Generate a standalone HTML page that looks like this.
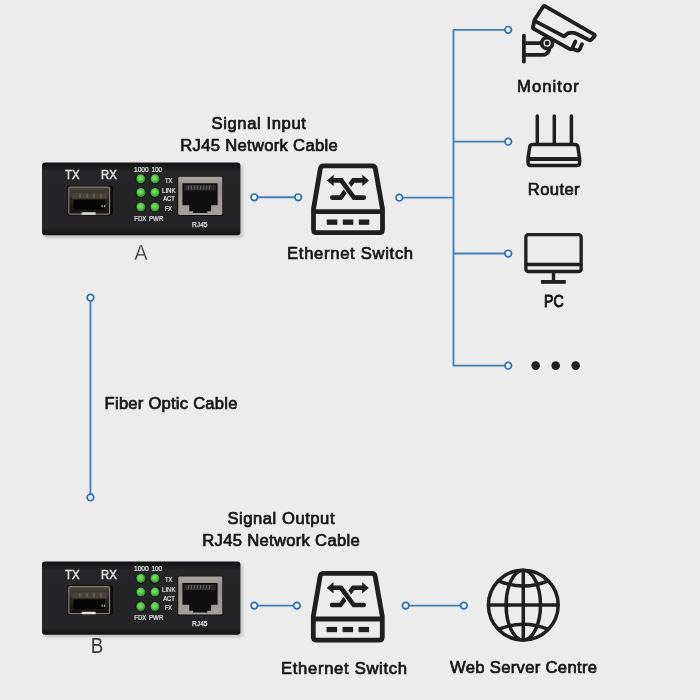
<!DOCTYPE html>
<html lang="en">
<head>
<meta charset="utf-8">
<title>Fiber media converter network diagram</title>
<style>
html,body{margin:0;padding:0;background:#ececec;}
body{width:700px;height:700px;overflow:hidden;}
svg{display:block;will-change:transform;font-family:"Liberation Sans",sans-serif;}
</style>
</head>
<body>
<svg width="700" height="700" viewBox="0 0 700 700">
<rect width="700" height="700" fill="#ececec"/>
<defs>
<linearGradient id="devbody" x1="0" y1="0" x2="0" y2="1">
<stop offset="0" stop-color="#121212"/><stop offset="0.05" stop-color="#19191a"/><stop offset="0.12" stop-color="#262628"/><stop offset="0.9" stop-color="#242426"/><stop offset="1" stop-color="#121212"/>
</linearGradient>
<linearGradient id="sfp" x1="0" y1="0" x2="0" y2="1">
<stop offset="0" stop-color="#4a453e"/><stop offset="0.4" stop-color="#2a2622"/><stop offset="1" stop-color="#15130f"/>
</linearGradient>
<linearGradient id="rjframe" x1="0" y1="0" x2="0" y2="1">
<stop offset="0" stop-color="#a9a69e"/><stop offset="0.25" stop-color="#95928b"/><stop offset="1" stop-color="#a4a19a"/>
</linearGradient>
<radialGradient id="led" cx="0.45" cy="0.4" r="0.6">
<stop offset="0" stop-color="#86e874"/><stop offset="0.55" stop-color="#52c446"/><stop offset="1" stop-color="#2a8a28"/>
</radialGradient>
<filter id="blur" x="-5%" y="-15%" width="110%" height="130%"><feGaussianBlur stdDeviation="1.5"/></filter>
</defs>
<g fill="none" stroke="#3f7ebb" stroke-width="1.8">
<path d="M508.2 29.8 H453.5 V365.7 H508.2"/>
<path d="M453.5 141.7 H508.2"/>
<path d="M453.5 253.5 H508.2"/>
<path d="M399.3 197.7 H453.5"/>
</g>
<circle cx="508.2" cy="29.8" r="3.3" fill="#e8f5fb" stroke="#2f6cae" stroke-width="1.65"/>
<circle cx="508.2" cy="141.7" r="3.3" fill="#e8f5fb" stroke="#2f6cae" stroke-width="1.65"/>
<circle cx="508.2" cy="253.5" r="3.3" fill="#e8f5fb" stroke="#2f6cae" stroke-width="1.65"/>
<circle cx="508.2" cy="365.7" r="3.3" fill="#e8f5fb" stroke="#2f6cae" stroke-width="1.65"/>
<circle cx="399.3" cy="197.7" r="3.3" fill="#e8f5fb" stroke="#2f6cae" stroke-width="1.65"/>
<line x1="254.3" y1="197.25" x2="298.2" y2="197.25" stroke="#3f7ebb" stroke-width="1.8"/><circle cx="254.3" cy="197.25" r="3.3" fill="#e8f5fb" stroke="#2f6cae" stroke-width="1.65"/><circle cx="298.2" cy="197.25" r="3.3" fill="#e8f5fb" stroke="#2f6cae" stroke-width="1.65"/>
<line x1="90.45" y1="297.7" x2="90.45" y2="497.4" stroke="#3f7ebb" stroke-width="1.8"/><circle cx="90.45" cy="297.7" r="3.3" fill="#e8f5fb" stroke="#2f6cae" stroke-width="1.65"/><circle cx="90.45" cy="497.4" r="3.3" fill="#e8f5fb" stroke="#2f6cae" stroke-width="1.65"/>
<line x1="254.3" y1="605.6" x2="296.9" y2="605.6" stroke="#3f7ebb" stroke-width="1.8"/><circle cx="254.3" cy="605.6" r="3.3" fill="#e8f5fb" stroke="#2f6cae" stroke-width="1.65"/><circle cx="296.9" cy="605.6" r="3.3" fill="#e8f5fb" stroke="#2f6cae" stroke-width="1.65"/>
<line x1="405.7" y1="605.6" x2="463.9" y2="605.6" stroke="#3f7ebb" stroke-width="1.8"/><circle cx="405.7" cy="605.6" r="3.3" fill="#e8f5fb" stroke="#2f6cae" stroke-width="1.65"/><circle cx="463.9" cy="605.6" r="3.3" fill="#e8f5fb" stroke="#2f6cae" stroke-width="1.65"/>
<g transform="translate(42.0,162.55)">
<rect x="2.4" y="2.6" width="198.4" height="72.8" rx="3" fill="#888" opacity="0.42" filter="url(#blur)"/>
<rect x="0" y="0" width="198.4" height="72.8" rx="3" fill="url(#devbody)"/>
<g transform="translate(0,0)">
<text x="30.3" y="16.8" font-size="13.4" text-anchor="middle" fill="#e0e0e0" textLength="14.6" lengthAdjust="spacingAndGlyphs" stroke="#e0e0e0" stroke-width="0.5">TX</text>
<text x="66.9" y="16.8" font-size="13.4" text-anchor="middle" fill="#e0e0e0" textLength="15.8" lengthAdjust="spacingAndGlyphs" stroke="#e0e0e0" stroke-width="0.5">RX</text>
<rect x="25.4" y="23.2" width="45.4" height="29.8" rx="1.5" fill="#0a0a0a"/>
<rect x="26.8" y="24.6" width="40.8" height="27" rx="1.4" fill="url(#sfp)" stroke="#857e72" stroke-width="1.2"/>
<rect x="29.4" y="30.2" width="36" height="6" fill="#47423a"/>
<rect x="37.5" y="31" width="1" height="4.4" fill="#7a7468"/>
<rect x="44.5" y="31" width="1" height="4.4" fill="#7a7468"/>
<rect x="51.5" y="31" width="1" height="4.4" fill="#7a7468"/>
<rect x="58.5" y="31" width="1" height="4.4" fill="#7a7468"/>
<rect x="31.6" y="37.2" width="31.6" height="9.6" fill="#040404"/>
<rect x="59.6" y="42.6" width="1.3" height="2" fill="#bdb9b0"/><rect x="61.9" y="42.6" width="1.3" height="2" fill="#bdb9b0"/>
<rect x="39.6" y="49.6" width="14.2" height="2.6" rx="1.1" fill="#e4e0d8"/>
<circle cx="98.85" cy="16.3" r="5.3" fill="#0c0f0c"/>
<circle cx="98.85" cy="16.3" r="4.5" fill="url(#led)"/>
<circle cx="113.0" cy="16.3" r="5.3" fill="#0c0f0c"/>
<circle cx="113.0" cy="16.3" r="4.5" fill="url(#led)"/>
<circle cx="98.85" cy="30.0" r="5.3" fill="#0c0f0c"/>
<circle cx="98.85" cy="30.0" r="4.5" fill="url(#led)"/>
<circle cx="113.0" cy="30.0" r="5.3" fill="#0c0f0c"/>
<circle cx="113.0" cy="30.0" r="4.5" fill="url(#led)"/>
<circle cx="98.85" cy="44.5" r="5.3" fill="#0c0f0c"/>
<circle cx="98.85" cy="44.5" r="4.5" fill="url(#led)"/>
<circle cx="113.0" cy="44.5" r="5.3" fill="#0c0f0c"/>
<circle cx="113.0" cy="44.5" r="4.5" fill="url(#led)"/>
<text x="92.0" y="9.0" font-size="6.8" text-anchor="start" fill="#e2e2e6" textLength="14.6" lengthAdjust="spacingAndGlyphs" stroke="#e2e2e6" stroke-width="0.22">1000</text>
<text x="109.6" y="9.0" font-size="6.8" text-anchor="start" fill="#e2e2e6" textLength="10.4" lengthAdjust="spacingAndGlyphs" stroke="#e2e2e6" stroke-width="0.22">100</text>
<text x="122.9" y="20.2" font-size="6.8" text-anchor="start" fill="#e2e2e6" textLength="7.4" lengthAdjust="spacingAndGlyphs" stroke="#e2e2e6" stroke-width="0.22">TX</text>
<text x="120.0" y="30.3" font-size="6.8" text-anchor="start" fill="#e2e2e6" textLength="13.6" lengthAdjust="spacingAndGlyphs" stroke="#e2e2e6" stroke-width="0.22">LINK</text>
<text x="121.2" y="38.7" font-size="6.8" text-anchor="start" fill="#e2e2e6" textLength="11.6" lengthAdjust="spacingAndGlyphs" stroke="#e2e2e6" stroke-width="0.22">ACT</text>
<text x="122.9" y="48.3" font-size="6.8" text-anchor="start" fill="#e2e2e6" textLength="7.2" lengthAdjust="spacingAndGlyphs" stroke="#e2e2e6" stroke-width="0.22">FX</text>
<text x="92.2" y="58.4" font-size="6.8" text-anchor="start" fill="#e2e2e6" textLength="12.2" lengthAdjust="spacingAndGlyphs" stroke="#e2e2e6" stroke-width="0.22">FDX</text>
<text x="107.0" y="58.4" font-size="6.8" text-anchor="start" fill="#e2e2e6" textLength="14.4" lengthAdjust="spacingAndGlyphs" stroke="#e2e2e6" stroke-width="0.22">PWR</text>
<rect x="135.4" y="13.6" width="45.8" height="39.8" rx="1.6" fill="#0d0d0d"/>
<rect x="136.2" y="14.3" width="44.1" height="38.2" rx="1.4" fill="url(#rjframe)"/>
<path d="M140.4 20.8h35.2v21.8h-6.5v6h-3.8v1.8h-14.2v-1.8h-3.8v-6h-6.9z" fill="#0e0e0f"/>
<path d="M142.2 22.4h31.6v5.6h-31.6z" fill="#2b2b2c"/>
<path d="M146.5 23h0.8l-0.9 4.4h-0.8z" fill="#77756f"/>
<path d="M149.5 23h0.8l-0.9 4.4h-0.8z" fill="#77756f"/>
<path d="M152.5 23h0.8l-0.9 4.4h-0.8z" fill="#77756f"/>
<path d="M155.5 23h0.8l-0.9 4.4h-0.8z" fill="#77756f"/>
<path d="M158.5 23h0.8l-0.9 4.4h-0.8z" fill="#77756f"/>
<path d="M161.5 23h0.8l-0.9 4.4h-0.8z" fill="#77756f"/>
<path d="M164.5 23h0.8l-0.9 4.4h-0.8z" fill="#77756f"/>
<path d="M167.5 23h0.8l-0.9 4.4h-0.8z" fill="#77756f"/>
<text x="157.8" y="64.3" font-size="7.2" text-anchor="middle" fill="#e2e2e6" textLength="15.4" lengthAdjust="spacingAndGlyphs" stroke="#e2e2e6" stroke-width="0.25">RJ45</text>
</g>
</g>
<g transform="translate(42.0,561.4)">
<rect x="2.4" y="2.6" width="198.4" height="73.3" rx="3" fill="#888" opacity="0.42" filter="url(#blur)"/>
<rect x="0" y="0" width="198.4" height="73.3" rx="3" fill="url(#devbody)"/>
<g transform="translate(0,0.7)">
<text x="30.3" y="16.8" font-size="13.4" text-anchor="middle" fill="#e0e0e0" textLength="14.6" lengthAdjust="spacingAndGlyphs" stroke="#e0e0e0" stroke-width="0.5">TX</text>
<text x="66.9" y="16.8" font-size="13.4" text-anchor="middle" fill="#e0e0e0" textLength="15.8" lengthAdjust="spacingAndGlyphs" stroke="#e0e0e0" stroke-width="0.5">RX</text>
<rect x="25.4" y="23.2" width="45.4" height="29.8" rx="1.5" fill="#0a0a0a"/>
<rect x="26.8" y="24.6" width="40.8" height="27" rx="1.4" fill="url(#sfp)" stroke="#857e72" stroke-width="1.2"/>
<rect x="29.4" y="30.2" width="36" height="6" fill="#47423a"/>
<rect x="37.5" y="31" width="1" height="4.4" fill="#7a7468"/>
<rect x="44.5" y="31" width="1" height="4.4" fill="#7a7468"/>
<rect x="51.5" y="31" width="1" height="4.4" fill="#7a7468"/>
<rect x="58.5" y="31" width="1" height="4.4" fill="#7a7468"/>
<rect x="31.6" y="37.2" width="31.6" height="9.6" fill="#040404"/>
<rect x="59.6" y="42.6" width="1.3" height="2" fill="#bdb9b0"/><rect x="61.9" y="42.6" width="1.3" height="2" fill="#bdb9b0"/>
<rect x="39.6" y="49.6" width="14.2" height="2.6" rx="1.1" fill="#e4e0d8"/>
<circle cx="98.85" cy="16.3" r="5.3" fill="#0c0f0c"/>
<circle cx="98.85" cy="16.3" r="4.5" fill="url(#led)"/>
<circle cx="113.0" cy="16.3" r="5.3" fill="#0c0f0c"/>
<circle cx="113.0" cy="16.3" r="4.5" fill="url(#led)"/>
<circle cx="98.85" cy="30.0" r="5.3" fill="#0c0f0c"/>
<circle cx="98.85" cy="30.0" r="4.5" fill="url(#led)"/>
<circle cx="113.0" cy="30.0" r="5.3" fill="#0c0f0c"/>
<circle cx="113.0" cy="30.0" r="4.5" fill="url(#led)"/>
<circle cx="98.85" cy="44.5" r="5.3" fill="#0c0f0c"/>
<circle cx="98.85" cy="44.5" r="4.5" fill="url(#led)"/>
<circle cx="113.0" cy="44.5" r="5.3" fill="#0c0f0c"/>
<circle cx="113.0" cy="44.5" r="4.5" fill="url(#led)"/>
<text x="92.0" y="9.0" font-size="6.8" text-anchor="start" fill="#e2e2e6" textLength="14.6" lengthAdjust="spacingAndGlyphs" stroke="#e2e2e6" stroke-width="0.22">1000</text>
<text x="109.6" y="9.0" font-size="6.8" text-anchor="start" fill="#e2e2e6" textLength="10.4" lengthAdjust="spacingAndGlyphs" stroke="#e2e2e6" stroke-width="0.22">100</text>
<text x="122.9" y="20.2" font-size="6.8" text-anchor="start" fill="#e2e2e6" textLength="7.4" lengthAdjust="spacingAndGlyphs" stroke="#e2e2e6" stroke-width="0.22">TX</text>
<text x="120.0" y="30.3" font-size="6.8" text-anchor="start" fill="#e2e2e6" textLength="13.6" lengthAdjust="spacingAndGlyphs" stroke="#e2e2e6" stroke-width="0.22">LINK</text>
<text x="121.2" y="38.7" font-size="6.8" text-anchor="start" fill="#e2e2e6" textLength="11.6" lengthAdjust="spacingAndGlyphs" stroke="#e2e2e6" stroke-width="0.22">ACT</text>
<text x="122.9" y="48.3" font-size="6.8" text-anchor="start" fill="#e2e2e6" textLength="7.2" lengthAdjust="spacingAndGlyphs" stroke="#e2e2e6" stroke-width="0.22">FX</text>
<text x="92.2" y="58.4" font-size="6.8" text-anchor="start" fill="#e2e2e6" textLength="12.2" lengthAdjust="spacingAndGlyphs" stroke="#e2e2e6" stroke-width="0.22">FDX</text>
<text x="107.0" y="58.4" font-size="6.8" text-anchor="start" fill="#e2e2e6" textLength="14.4" lengthAdjust="spacingAndGlyphs" stroke="#e2e2e6" stroke-width="0.22">PWR</text>
<rect x="135.4" y="13.6" width="45.8" height="39.8" rx="1.6" fill="#0d0d0d"/>
<rect x="136.2" y="14.3" width="44.1" height="38.2" rx="1.4" fill="url(#rjframe)"/>
<path d="M140.4 20.8h35.2v21.8h-6.5v6h-3.8v1.8h-14.2v-1.8h-3.8v-6h-6.9z" fill="#0e0e0f"/>
<path d="M142.2 22.4h31.6v5.6h-31.6z" fill="#2b2b2c"/>
<path d="M146.5 23h0.8l-0.9 4.4h-0.8z" fill="#77756f"/>
<path d="M149.5 23h0.8l-0.9 4.4h-0.8z" fill="#77756f"/>
<path d="M152.5 23h0.8l-0.9 4.4h-0.8z" fill="#77756f"/>
<path d="M155.5 23h0.8l-0.9 4.4h-0.8z" fill="#77756f"/>
<path d="M158.5 23h0.8l-0.9 4.4h-0.8z" fill="#77756f"/>
<path d="M161.5 23h0.8l-0.9 4.4h-0.8z" fill="#77756f"/>
<path d="M164.5 23h0.8l-0.9 4.4h-0.8z" fill="#77756f"/>
<path d="M167.5 23h0.8l-0.9 4.4h-0.8z" fill="#77756f"/>
<text x="157.8" y="64.3" font-size="7.2" text-anchor="middle" fill="#e2e2e6" textLength="15.4" lengthAdjust="spacingAndGlyphs" stroke="#e2e2e6" stroke-width="0.25">RJ45</text>
</g>
</g>
<g transform="translate(300,155)" fill="none" stroke="#1f1f1f" stroke-linejoin="round" stroke-linecap="round">
<path d="M23.8 10.9 H71.9 Q74.9 10.9 75.4 13.9 L82.5 54 V74.5 Q82.5 77.7 79.3 77.7 H16.7 Q13.5 77.7 13.5 74.5 V54 L20.3 13.9 Q20.8 10.9 23.8 10.9 Z" stroke-width="4.8"/>
<line x1="14" y1="56.6" x2="82" y2="56.6" stroke-width="4.8"/>
<rect x="26.8" y="64.5" width="10.5" height="5.3" fill="#1f1f1f" stroke="none"/>
<rect x="42.8" y="64.5" width="10.5" height="5.3" fill="#1f1f1f" stroke="none"/>
<rect x="58.8" y="64.5" width="10.5" height="5.3" fill="#1f1f1f" stroke="none"/>
<path d="M32.2 42.6 H40.6 L53.4 25.4 H63" stroke-width="4.6" stroke-linejoin="miter"/>
<path d="M41.8 25.4 L54.4 42.6" stroke="#ececec" stroke-width="7.6" stroke-linecap="butt"/>
<path d="M33 25.4 H41.2 L54.0 42.6 H63.9" stroke-width="4.6" stroke-linejoin="miter"/>
<path d="M62.3 19.7 L69.0 25.5 L62.3 31.2 Z" fill="#1f1f1f" stroke="none"/>
<path d="M33.7 19.7 L27.0 25.5 L33.7 31.2 Z" fill="#1f1f1f" stroke="none"/>
</g>
<g transform="translate(299.8,562.4)" fill="none" stroke="#1f1f1f" stroke-linejoin="round" stroke-linecap="round">
<path d="M23.8 10.9 H71.9 Q74.9 10.9 75.4 13.9 L82.5 54 V74.5 Q82.5 77.7 79.3 77.7 H16.7 Q13.5 77.7 13.5 74.5 V54 L20.3 13.9 Q20.8 10.9 23.8 10.9 Z" stroke-width="4.8"/>
<line x1="14" y1="56.6" x2="82" y2="56.6" stroke-width="4.8"/>
<rect x="26.8" y="64.5" width="10.5" height="5.3" fill="#1f1f1f" stroke="none"/>
<rect x="42.8" y="64.5" width="10.5" height="5.3" fill="#1f1f1f" stroke="none"/>
<rect x="58.8" y="64.5" width="10.5" height="5.3" fill="#1f1f1f" stroke="none"/>
<path d="M32.2 42.6 H40.6 L53.4 25.4 H63" stroke-width="4.6" stroke-linejoin="miter"/>
<path d="M41.8 25.4 L54.4 42.6" stroke="#ececec" stroke-width="7.6" stroke-linecap="butt"/>
<path d="M33 25.4 H41.2 L54.0 42.6 H63.9" stroke-width="4.6" stroke-linejoin="miter"/>
<path d="M62.3 19.7 L69.0 25.5 L62.3 31.2 Z" fill="#1f1f1f" stroke="none"/>
<path d="M33.7 19.7 L27.0 25.5 L33.7 31.2 Z" fill="#1f1f1f" stroke="none"/>
</g>
<g fill="none" stroke="#1f1f1f" stroke-width="3.8" stroke-linejoin="round" stroke-linecap="round">
<path d="M545.46 6.3 L593.94 34.4 Q595.5 35.3 594.23 36.57 L590.95 39.85 Q590.1 40.7 589.03 40.15 L578.1 34.5 C574 32.2 568.5 31.6 564 36.4 L535.16 21.16 Q534.1 20.6 534.75 19.59 L542.92 6.91 Q543.9 5.4 545.46 6.3 Z"/>
<path d="M534.4 21 L532.9 27 Q532.6 28.2 533.8 28.9 L569.4 48.9 Q571.4 50 572.4 48 L575.4 41.4"/>
<path d="M572.2 48.8 L577.4 50.6 Q578.8 51 579.5 49.7 L582 44.3"/>
<line x1="523.9" y1="35.6" x2="523.9" y2="61.6"/>
<line x1="524" y1="43.2" x2="540.4" y2="43.2"/>
<path d="M524 54.8 H542.6 Q547.2 54.8 549.2 50.2"/>
<circle cx="547.1" cy="43.1" r="5.5" stroke-width="3.7"/>
<circle cx="547.1" cy="43.1" r="2.4" fill="#1f1f1f" stroke="none"/>
</g>
<g fill="none" stroke="#1f1f1f" stroke-width="3.5" stroke-linejoin="round" stroke-linecap="round">
<line x1="537.3" y1="115.9" x2="537.3" y2="144.2" stroke-width="3.5"/>
<line x1="554.3" y1="115.9" x2="554.3" y2="144.2" stroke-width="3.5"/>
<line x1="571.4" y1="115.9" x2="571.4" y2="144.2" stroke-width="3.5"/>
<path d="M532.4 144.4 H575.2 Q577.4 144.4 577.8 146.6 L579.6 158.6 V162.7 Q579.6 165.4 576.9 165.4 H530.7 Q528 165.4 528 162.7 V158.6 L529.8 146.6 Q530.2 144.4 532.4 144.4 Z"/>
<line x1="528.4" y1="159.0" x2="579.2" y2="159.0" stroke-width="3.8" stroke-linecap="butt"/>
</g>
<g fill="none" stroke="#1f1f1f" stroke-width="3.3" stroke-linejoin="round">
<rect x="525.85" y="234.7" width="55.3" height="36.8" rx="2.6"/>
<line x1="526" y1="264.5" x2="581" y2="264.5" stroke-width="3.5"/>
<line x1="553.5" y1="272" x2="553.5" y2="281.6" stroke-width="3.4"/>
<line x1="541" y1="281.9" x2="565.8" y2="281.9" stroke-width="3.8"/>
</g>
<g fill="none" stroke="#1f1f1f" stroke-width="3.5">
<circle cx="523.3" cy="605.1" r="34.9"/>
<ellipse cx="523.3" cy="605.1" rx="17.2" ry="34.9"/>
<line x1="523.3" y1="570.2" x2="523.3" y2="640.0"/>
<line x1="488.4" y1="605.1" x2="558.1999999999999" y2="605.1"/>
<path d="M498.30 580.80 Q523.3 591.20 548.30 580.80"/>
<path d="M498.30 629.40 Q523.3 619.00 548.30 629.40"/>
</g>
<circle cx="535.7" cy="365.6" r="4.3" fill="#1f1f1f"/>
<circle cx="555.7" cy="365.6" r="4.3" fill="#1f1f1f"/>
<circle cx="575.7" cy="365.6" r="4.3" fill="#1f1f1f"/>
<text x="258.7" y="129.3" font-size="16.6" text-anchor="middle" fill="#151515" textLength="94.4" lengthAdjust="spacing" stroke="#151515" stroke-width="0.7">Signal Input</text>
<text x="259" y="150.6" font-size="16.6" text-anchor="middle" fill="#151515" textLength="157.4" lengthAdjust="spacing" stroke="#151515" stroke-width="0.7">RJ45 Network Cable</text>
<text x="350.1" y="258.8" font-size="16.6" text-anchor="middle" fill="#151515" textLength="126" lengthAdjust="spacing" stroke="#151515" stroke-width="0.7">Ethernet Switch</text>
<text x="547.9" y="92.2" font-size="16.6" text-anchor="middle" fill="#151515" textLength="61.6" lengthAdjust="spacing" stroke="#151515" stroke-width="0.7">Monitor</text>
<text x="553.7" y="195.4" font-size="16.6" text-anchor="middle" fill="#151515" textLength="51.7" lengthAdjust="spacing" stroke="#151515" stroke-width="0.7">Router</text>
<text x="553.8" y="306.8" font-size="16.6" text-anchor="middle" fill="#151515" textLength="19.6" lengthAdjust="spacingAndGlyphs" stroke="#151515" stroke-width="0.95">PC</text>
<text x="104.6" y="408.6" font-size="16.6" text-anchor="start" fill="#151515" textLength="132.8" lengthAdjust="spacing" stroke="#151515" stroke-width="0.7">Fiber Optic Cable</text>
<text x="281" y="524" font-size="16.6" text-anchor="middle" fill="#151515" textLength="107" lengthAdjust="spacing" stroke="#151515" stroke-width="0.7">Signal Output</text>
<text x="281" y="546.2" font-size="16.6" text-anchor="middle" fill="#151515" textLength="157.4" lengthAdjust="spacing" stroke="#151515" stroke-width="0.7">RJ45 Network Cable</text>
<text x="344" y="673.9" font-size="16.6" text-anchor="middle" fill="#151515" textLength="126" lengthAdjust="spacing" stroke="#151515" stroke-width="0.7">Ethernet Switch</text>
<text x="523.5" y="673.3" font-size="16.6" text-anchor="middle" fill="#151515" textLength="147" lengthAdjust="spacing" stroke="#151515" stroke-width="0.7">Web Server Centre</text>
<text x="140.8" y="260.3" font-size="21.4" text-anchor="middle" fill="#333" textLength="13.3" lengthAdjust="spacingAndGlyphs" stroke="#ececec" stroke-width="0.3">A</text>
<text x="97.1" y="652.9" font-size="21.4" text-anchor="middle" fill="#3a3a3a" textLength="12.6" lengthAdjust="spacingAndGlyphs">B</text>
</svg>
</body>
</html>
